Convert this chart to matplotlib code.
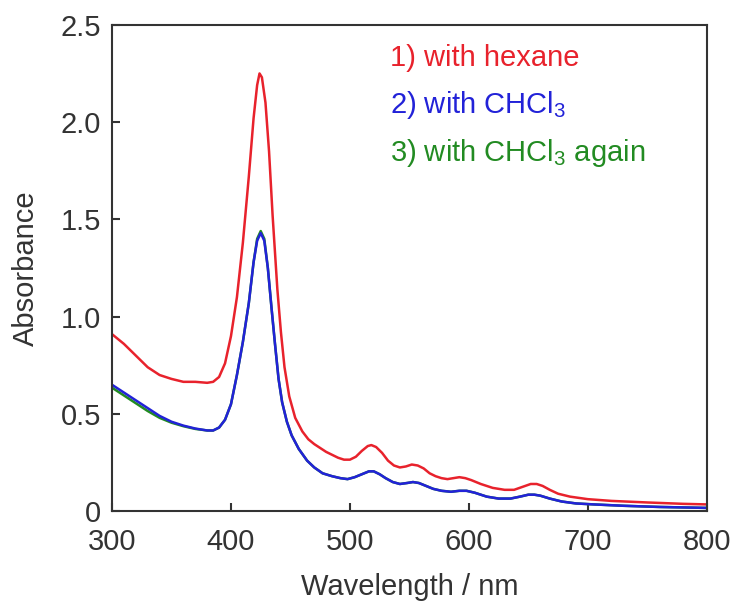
import matplotlib
matplotlib.use("Agg")
import matplotlib.pyplot as plt
from matplotlib.ticker import FuncFormatter

plt.rcParams['font.family'] = ['Liberation Sans', 'DejaVu Sans']
plt.rcParams['mathtext.fontset'] = 'custom'
plt.rcParams['mathtext.rm'] = 'Liberation Sans'

# Absorption spectra: 1) hexane, 2) CHCl3, 3) CHCl3 again
wl_hexane = [300, 310, 320, 330, 340, 350, 360, 370, 380, 385, 390, 395, 400, 405,
             410, 415, 419, 422, 424, 426, 429, 432, 435, 439, 442, 445, 449, 454,
             460, 465, 470, 475, 480, 485, 490, 495, 500, 505, 510, 515, 518, 522,
             527, 532, 537, 542, 547, 552, 557, 562, 567, 572, 577, 582, 587, 592,
             597, 602, 610, 620, 630, 638, 645, 652, 657, 662, 668, 675, 685, 700,
             720, 750, 780, 800]
abs_hexane = [0.91, 0.86, 0.80, 0.74, 0.70, 0.68, 0.665, 0.665, 0.66, 0.665, 0.69,
              0.76, 0.90, 1.10, 1.38, 1.72, 2.02, 2.19, 2.25, 2.23, 2.10, 1.85, 1.52,
              1.14, 0.92, 0.74, 0.59, 0.48, 0.41, 0.37, 0.345, 0.325, 0.305, 0.29,
              0.275, 0.265, 0.265, 0.28, 0.31, 0.335, 0.34, 0.33, 0.30, 0.26, 0.235,
              0.225, 0.23, 0.24, 0.235, 0.22, 0.195, 0.18, 0.17, 0.165, 0.17, 0.175,
              0.17, 0.16, 0.14, 0.12, 0.11, 0.11, 0.125, 0.14, 0.14, 0.13, 0.11, 0.09,
              0.075, 0.062, 0.053, 0.045, 0.038, 0.035]

wl_chcl3 = [300, 310, 320, 330, 340, 350, 360, 370, 380, 385, 390, 395, 400, 405,
            410, 415, 419, 422, 425, 428, 431, 434, 437, 440, 443, 447, 451, 457,
            464, 470, 477, 485, 492, 498, 504, 510, 516, 520, 525, 530, 536, 542,
            548, 553, 558, 564, 570, 577, 585, 592, 598, 605, 615, 625, 635, 643,
            650, 655, 660, 668, 678, 690, 705, 730, 760, 800]
abs_chcl3 = [0.65, 0.61, 0.57, 0.53, 0.49, 0.46, 0.44, 0.425, 0.415, 0.415, 0.43,
             0.47, 0.55, 0.70, 0.87, 1.07, 1.28, 1.39, 1.43, 1.39, 1.25, 1.05, 0.86,
             0.68, 0.56, 0.46, 0.39, 0.32, 0.26, 0.225, 0.195, 0.18, 0.17, 0.165,
             0.175, 0.19, 0.205, 0.205, 0.19, 0.17, 0.15, 0.14, 0.145, 0.15, 0.145,
             0.13, 0.115, 0.105, 0.10, 0.105, 0.105, 0.095, 0.075, 0.065, 0.065,
             0.075, 0.085, 0.085, 0.08, 0.065, 0.05, 0.04, 0.035, 0.028, 0.022, 0.017]
abs_chcl3_again = [0.635, 0.595, 0.555, 0.515, 0.48, 0.455, 0.437, 0.423, 0.415,
                   0.415, 0.43, 0.47, 0.55, 0.70, 0.87, 1.07, 1.28, 1.40, 1.44, 1.40,
                   1.25, 1.05, 0.86, 0.68, 0.56, 0.46, 0.39, 0.32, 0.26, 0.225, 0.195,
                   0.18, 0.17, 0.165, 0.175, 0.19, 0.205, 0.205, 0.19, 0.17, 0.15,
                   0.14, 0.145, 0.15, 0.145, 0.13, 0.115, 0.105, 0.10, 0.105, 0.105,
                   0.095, 0.075, 0.065, 0.065, 0.075, 0.085, 0.085, 0.08, 0.065, 0.05,
                   0.04, 0.035, 0.028, 0.022, 0.017]

labels = ['1) with hexane', r'2) with CHCl$_\mathregular{3}$',
          r'3) with CHCl$_\mathregular{3}$ again']
colors = ['#e8222c', '#2222d8', '#228b22']
x_ticks = [300, 400, 500, 600, 700, 800]
y_ticks = [0, 0.5, 1.0, 1.5, 2.0, 2.5]

ink = '#333333'
fig = plt.figure(figsize=(7.37, 6.05), dpi=100)
ax = fig.add_axes([0.152, 0.155, 0.807, 0.804])

ax.plot(wl_chcl3, abs_chcl3_again, color=colors[2], lw=1.8)
ax.plot(wl_hexane, abs_hexane, color=colors[0], lw=1.8)
ax.plot(wl_chcl3, abs_chcl3, color=colors[1], lw=1.8)

ax.set_xlim(300, 800)
ax.set_ylim(0, 2.5)
ax.set_xticks(x_ticks)
ax.set_yticks(y_ticks)
ax.yaxis.set_major_formatter(FuncFormatter(lambda v, p: '0' if v == 0 else f'{v:.1f}'))

for s in ax.spines.values():
    s.set_linewidth(1.5)
    s.set_color(ink)
ax.tick_params(direction='in', length=6, width=1.5, color=ink, labelcolor=ink,
               labelsize=21, top=False, right=False)
ax.tick_params(axis='x', pad=12)
ax.tick_params(axis='y', pad=8)

ax.set_xlabel('Wavelength / nm', fontsize=21, color=ink, labelpad=12)
ax.set_ylabel('Absorbance', fontsize=21, color=ink, labelpad=15)

for i, (lab, c) in enumerate(zip(labels, colors)):
    ax.text(0.467, 0.915 - i * 0.097, lab, transform=ax.transAxes, color=c,
            fontsize=21, va='baseline', ha='left')

fig.savefig('out.png', dpi=100)
